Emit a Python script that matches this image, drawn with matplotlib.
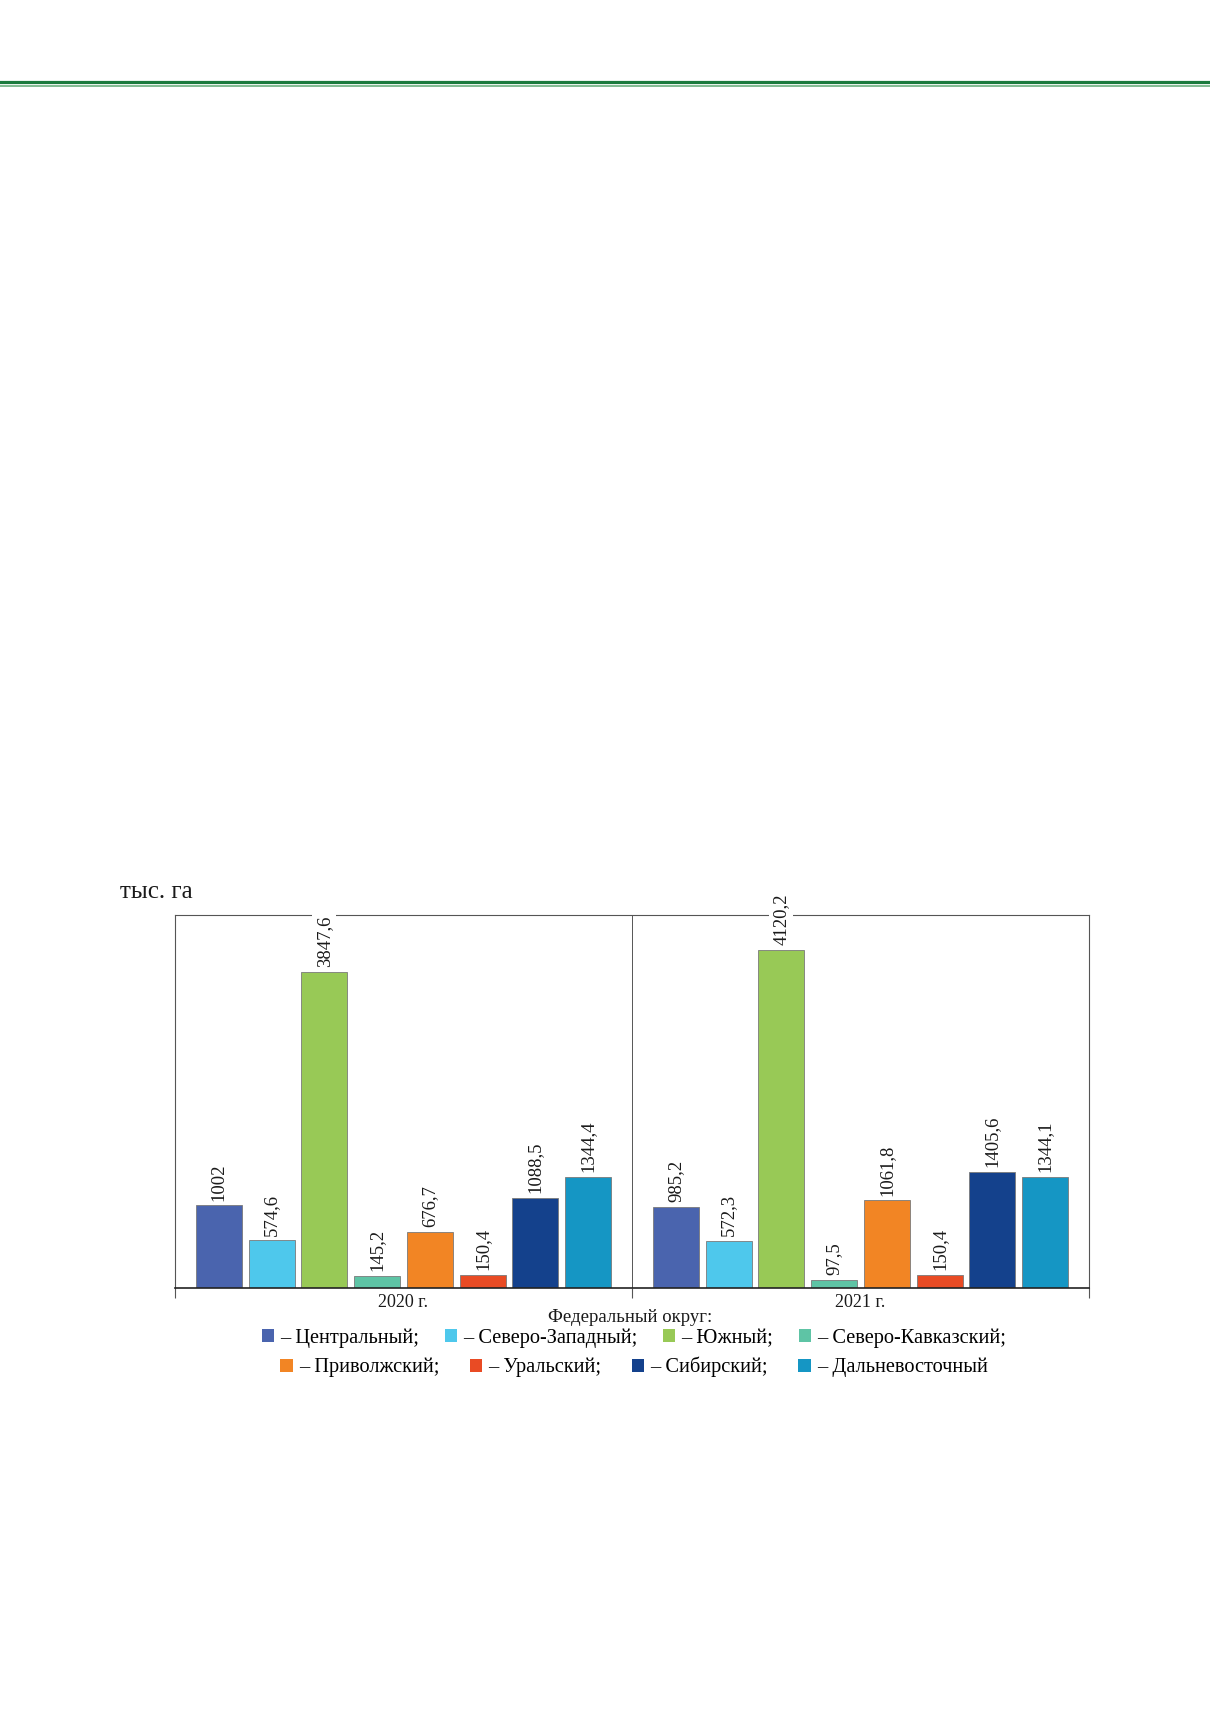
import matplotlib
matplotlib.use("Agg")
import matplotlib.pyplot as plt
from matplotlib.lines import Line2D
from matplotlib.patches import Patch
import numpy as np

years = ["2020 г.", "2021 г."]
districts = ["Центральный", "Северо-Западный", "Южный", "Северо-Кавказский",
             "Приволжский", "Уральский", "Сибирский", "Дальневосточный"]
values_2020 = [1002, 574.6, 3847.6, 145.2, 676.7, 150.4, 1088.5, 1344.4]
values_2021 = [985.2, 572.3, 4120.2, 97.5, 1061.8, 150.4, 1405.6, 1344.1]
labels_2020 = ["1002", "574,6", "3847,6", "145,2", "676,7", "150,4", "1088,5", "1344,4"]
labels_2021 = ["985,2", "572,3", "4120,2", "97,5", "1061,8", "150,4", "1405,6", "1344,1"]
colors = ["#4a64ae", "#4ec8ec", "#98c956", "#5ec4a5",
          "#f28524", "#e94b24", "#14418c", "#1596c4"]
unit_label = "тыс. га"
legend_title = "Федеральный округ:"

plt.rcParams['font.family'] = ['Liberation Serif', 'DejaVu Serif']

fig = plt.figure(figsize=(12.1, 17.12), dpi=100)

# header lines
fig.add_artist(Line2D([0, 1], [1 - 82 / 1712, 1 - 82 / 1712], color="#1b7a3d", lw=2.3,
                      transform=fig.transFigure))
fig.add_artist(Line2D([0, 1], [1 - 85.8 / 1712, 1 - 85.8 / 1712], color="#5fa874", lw=1.1,
                      transform=fig.transFigure))

ax = fig.add_axes([175 / 1210, 1 - 1287.5 / 1712, (1089 - 175) / 1210, (1287.5 - 915) / 1712])

n = len(districts)
step = 0.1154
width = 0.1007
x = np.arange(len(years))
series = [values_2020, values_2021]
labs = [labels_2020, labels_2021]
for gi in range(len(years)):
    for i in range(n):
        xpos = x[gi] + (i - (n - 1) / 2) * step
        ax.bar(xpos, series[gi][i], width=width, color=colors[i],
               edgecolor="#7a7a7a", linewidth=0.6, zorder=2)
        ax.annotate(labs[gi][i], (xpos, series[gi][i]), xytext=(0, 3.5),
                    textcoords="offset points", rotation=90, ha="center", va="bottom",
                    fontsize=13.5, color="#1a1a1a", zorder=5,
                    bbox=dict(facecolor="white", edgecolor="none", pad=2.5))

ax.set_xlim(-0.5, 1.5)
ax.set_ylim(0, 4545)
ax.set_yticks([])
ax.set_xticks(x)
ax.set_xticklabels(years, fontsize=13)
ax.tick_params(axis="x", which="major", length=0, pad=5, colors="#1a1a1a")
ax.set_xticks([-0.5, 0.5, 1.5], minor=True)
ax.tick_params(axis="x", which="minor", length=7, width=0.8, color="#555555", direction="out")
ax.axvline(0.5, color="#555555", lw=0.7, zorder=1)
for s in ["left", "right", "top"]:
    ax.spines[s].set_color("#555555")
    ax.spines[s].set_linewidth(0.8)
ax.spines["bottom"].set_color("#222222")
ax.spines["bottom"].set_linewidth(1.2)

fig.text(120 / 1210, 1 - 892 / 1712, unit_label, fontsize=18, va="center", ha="left",
         color="#1a1a1a")
fig.text(630 / 1210, 1 - 1318 / 1712, legend_title, fontsize=13.5, ha="center", va="center",
         color="#1a1a1a")

handles = [Patch(facecolor=c, edgecolor="none") for c in colors]
names = ["– " + d + (";" if k < n - 1 else "") for k, d in enumerate(districts)]
common = dict(frameon=False, fontsize=14.7, handlelength=0.6, handleheight=0.6,
              handletextpad=0.3, ncol=4, borderaxespad=0,
              borderpad=0, loc="center")
leg1 = fig.legend(handles[:4], names[:4], bbox_to_anchor=(634 / 1210, 1 - 1338 / 1712),
                  columnspacing=1.25, **common)
leg2 = fig.legend(handles[4:], names[4:], bbox_to_anchor=(634 / 1210, 1 - 1367 / 1712),
                  columnspacing=1.5, **common)

fig.savefig("out.png", dpi=100, facecolor="white")
